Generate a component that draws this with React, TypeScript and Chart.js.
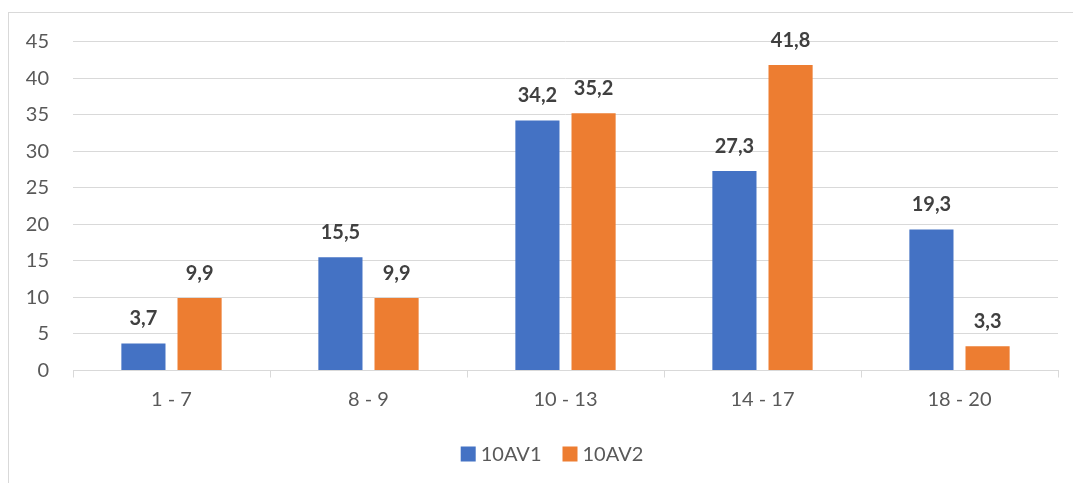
import React, { useEffect, useRef } from "react";
import { Chart, registerables } from "chart.js";

Chart.register(...registerables);

const categories = ["1 - 7", "8 - 9", "10 - 13", "14 - 17", "18 - 20"];
const series1Name = "10AV1";
const series2Name = "10AV2";
const series1 = [3.7, 15.5, 34.2, 27.3, 19.3];
const series2 = [9.9, 9.9, 35.2, 41.8, 3.3];

const FONT = "Lato, 'Noto Sans', sans-serif";

const dataLabelPlugin = {
  id: "dataLabels",
  afterDatasetsDraw(chart: any) {
    const ctx = chart.ctx;
    ctx.save();
    ctx.font = `bold 20px ${FONT}`;
    ctx.fillStyle = "#404040";
    ctx.textAlign = "center";
    ctx.textBaseline = "alphabetic";
    chart.data.datasets.forEach((ds: any, i: number) => {
      const meta = chart.getDatasetMeta(i);
      meta.data.forEach((bar: any, j: number) => {
        const v = ds.data[j];
        ctx.fillText(String(v).replace(".", ","), bar.x, bar.y - 18);
      });
    });
    ctx.restore();
  },
};

const customLegendPlugin = {
  id: "customLegend",
  afterDraw(chart: any) {
    const ctx = chart.ctx;
    ctx.save();
    ctx.font = `20px ${FONT}`;
    ctx.textBaseline = "middle";
    ctx.textAlign = "left";
    const box = 15;
    const gapBoxText = 5;
    const gapItems = 21;
    const items = chart.data.datasets.map((ds: any) => ({
      label: ds.label,
      color: ds.backgroundColor,
      w: ctx.measureText(ds.label).width,
    }));
    const total =
      items.reduce((a: number, it: any) => a + box + gapBoxText + it.w, 0) +
      gapItems * (items.length - 1);
    let x = chart.width / 2 - total / 2 - 1;
    const cy = 441;
    items.forEach((it: any) => {
      ctx.fillStyle = it.color;
      ctx.fillRect(x, cy - box / 2, box, box);
      x += box + gapBoxText;
      ctx.fillStyle = "#595959";
      ctx.fillText(it.label, x, cy + 1);
      x += it.w + gapItems;
    });
    ctx.restore();
  },
};

export default function App() {
  const ref = useRef<HTMLCanvasElement>(null);
  useEffect(() => {
    if (!ref.current) return;
    const chart = new Chart(ref.current, {
      type: "bar",
      data: {
        labels: categories,
        datasets: [
          {
            label: series1Name,
            data: series1,
            backgroundColor: "#4472C4",
            categoryPercentage: 0.57,
            barPercentage: 0.786,
          },
          {
            label: series2Name,
            data: series2,
            backgroundColor: "#ED7D31",
            categoryPercentage: 0.57,
            barPercentage: 0.786,
          },
        ],
      },
      options: {
        responsive: false,
        animation: false,
        layout: { padding: { top: 28.5, left: 0, right: 39, bottom: 70 } },
        plugins: {
          tooltip: { enabled: false },
          legend: { display: false },
        },
        scales: {
          x: {
            afterFit: (s: any) => {
              s.height = 52.5;
            },
            grid: {
              display: true,
              drawOnChartArea: false,
              drawTicks: true,
              tickLength: 7,
              color: "#d9d9d9",
            },
            border: { display: true, color: "#d9d9d9", width: 1 },
            ticks: {
              font: { family: FONT, size: 20 },
              color: "#595959",
              padding: 10,
            },
          },
          y: {
            min: 0,
            max: 45,
            afterFit: (s: any) => {
              s.width = 64;
              s.paddingTop = 0;
              s.paddingBottom = 0;
            },
            grid: { color: "#d9d9d9", drawTicks: false },
            border: { display: false },
            ticks: {
              stepSize: 5,
              font: { family: FONT, size: 20 },
              color: "#595959",
              padding: 24,
            },
          },
        },
      },
      plugins: [dataLabelPlugin, customLegendPlugin],
    });
    return () => chart.destroy();
  }, []);

  return (
    <div
      style={{
        position: "fixed",
        left: 8,
        top: 12,
        width: 1065,
        height: 471,
        overflow: "hidden",
      }}
    >
      <div
        style={{
          border: "1px solid #d9d9d9",
          width: 1088,
          height: 490,
          background: "#fff",
        }}
      >
        <canvas ref={ref} width={1088} height={480} style={{ display: "block" }} />
      </div>
    </div>
  );
}
